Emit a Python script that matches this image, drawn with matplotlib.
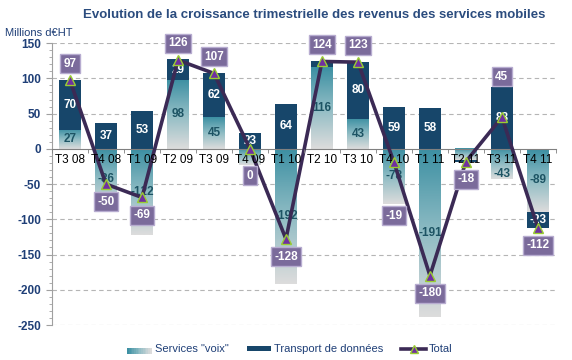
import matplotlib
matplotlib.use("Agg")
import matplotlib.pyplot as plt
import numpy as np
from matplotlib.colors import LinearSegmentedColormap
from matplotlib.legend_handler import HandlerBase
from matplotlib.lines import Line2D
from matplotlib.patches import Rectangle, Patch

plt.rcParams["font.family"] = ["Liberation Sans", "DejaVu Sans"]
plt.rcParams["axes.unicode_minus"] = False

# data (millions d'euros HT)
quarters = ["T3 08", "T4 08", "T1 09", "T2 09", "T3 09", "T4 09", "T1 10",
            "T2 10", "T3 10", "T4 10", "T1 11", "T2 11", "T3 11", "T4 11"]
voix = [27, -86, -122, 98, 45, -23, -192, 116, 43, -78, -238, -16, -43, -89]
voix_labels = ["27", "-86", "-122", "98", "45", "", "-192", "116", "43",
               "-78", "-191", "", "-43", "-89"]
donnees = [70, 37, 53, 29, 62, 23, 64, 9, 80, 59, 58, -2, 88, -23]
donnees_labels = ["70", "37", "53", "29", "62", "23", "64", "9", "80",
                  "59", "58", "", "88", "-23"]
total = [97, -50, -69, 126, 107, 0, -128, 124, 123, -19, -180, -18, 45, -112]

NAVY = "#1f3f77"
DATA_COL = "#17466a"
voix_cmap = LinearSegmentedColormap.from_list("voix", ["#3d90a3", "#8fbcc4", "#dcdcdc"])

# where the total box sits when it is not just above/below the triangle
label_shift = {5: -38, 9: -76, 12: 57}


class GradientHandler(HandlerBase):
    def create_artists(self, legend, orig, xd, yd, w, h, fontsize, trans):
        n = 14
        arts = []
        for i in range(n):
            arts.append(Rectangle((xd + w * i / n, yd), w / n, h,
                                  facecolor=voix_cmap(i / (n - 1)), edgecolor="none",
                                  transform=trans))
        return arts


fig = plt.figure(figsize=(5.72, 3.6), dpi=100)
ax = fig.add_axes([0.0909, 0.0972, 0.881, 0.783])

x = np.arange(len(quarters))
w = 0.61
grad = np.linspace(0, 1, 64).reshape(-1, 1)

for i in x:
    v = voix[i]
    top, bot = max(v, 0), min(v, 0)
    ax.imshow(grad, cmap=voix_cmap, aspect="auto", origin="upper",
              extent=(i - w / 2, i + w / 2, bot, top), zorder=2)
    base = v if np.sign(v) == np.sign(donnees[i]) else 0
    ax.bar(i, donnees[i], w, bottom=base, color=DATA_COL, zorder=3)
    if voix_labels[i]:
        ly = v / 2 if v > 0 else min(v / 2, -36)
        ax.text(i, ly, voix_labels[i], ha="center", va="center", fontsize=8.5,
                fontweight="bold", color="#1d5464", zorder=5)
    if donnees_labels[i]:
        ax.text(i, base + donnees[i] / 2, donnees_labels[i], ha="center", va="center",
                fontsize=8.5, fontweight="bold", color="white", zorder=5)

ax.plot(x, total, color="#3b2a55", lw=2.6, zorder=6, solid_capstyle="round")
ax.plot(x, total, ls="none", marker="^", ms=7.5, mfc="#7030a0", mec="#9acd32",
        mew=1, zorder=7)

for i in x:
    t = total[i]
    off = label_shift.get(i, 24 if t > 0 else -25)
    ax.text(i, t + off, str(t), ha="center", va="center", fontsize=8.5,
            fontweight="bold", color="white", zorder=8,
            bbox=dict(boxstyle="square,pad=0.3", fc="#7b6b9b", ec="#b7acd0", lw=1))

ax.set_xlim(-0.5, len(quarters) - 0.5)
ax.set_ylim(-250, 150)
ax.set_yticks(np.arange(-250, 151, 50))
ax.set_yticks(np.arange(-250, 151, 10), minor=True)
for yv in np.arange(-250, 151, 50):
    if yv != 0:
        ax.axhline(yv, color="#b5b5b5", lw=0.8, ls=(0, (4, 3)), zorder=1)

ax.spines["top"].set_visible(False)
ax.spines["right"].set_visible(False)
ax.spines["left"].set_color("#a0a0a0")
ax.spines["bottom"].set_position(("data", 0))
ax.spines["bottom"].set_color("#808080")
ax.spines["bottom"].set_zorder(4)
ax.xaxis.set_zorder(6.5)

ax.set_xticks(x)
ax.set_xticklabels(quarters)
ax.set_xticks(np.arange(-0.5, len(quarters), 1), minor=True)
ax.tick_params(axis="x", which="major", length=0, pad=4, labelsize=8.5, labelcolor="black")
ax.tick_params(axis="x", which="minor", length=3, color="#808080")
ax.tick_params(axis="y", which="major", length=4, color="#a0a0a0", labelsize=8.5,
               labelcolor=NAVY, pad=4)
ax.tick_params(axis="y", which="minor", length=2, color="#a0a0a0")
for lab in ax.get_yticklabels():
    lab.set_fontweight("bold")

fig.text(0.55, 0.958, "Evolution de la croissance trimestrielle des revenus des services mobiles",
         ha="center", va="center", fontsize=9.5, fontweight="bold", color="#2b4c7e")
fig.text(0.009, 0.908, "Millions d€HT", ha="left", va="center", fontsize=8, color=NAVY)

handles = [Patch(label='Services "voix"'),
           Patch(facecolor=DATA_COL, label="Transport de données"),
           Line2D([], [], color="#3b2a55", lw=2.6, marker="^", ms=6, mfc="#7030a0",
                  mec="#9acd32", label="Total")]
leg = fig.legend(handles=handles, loc="center", bbox_to_anchor=(0.507, 0.03), ncol=3,
                 frameon=False, fontsize=8, handlelength=2.2, handleheight=0.35,
                 columnspacing=1.6, handletextpad=0.3,
                 handler_map={handles[0]: GradientHandler()})
for t in leg.get_texts():
    t.set_color(NAVY)

fig.savefig("out.png", dpi=100)
